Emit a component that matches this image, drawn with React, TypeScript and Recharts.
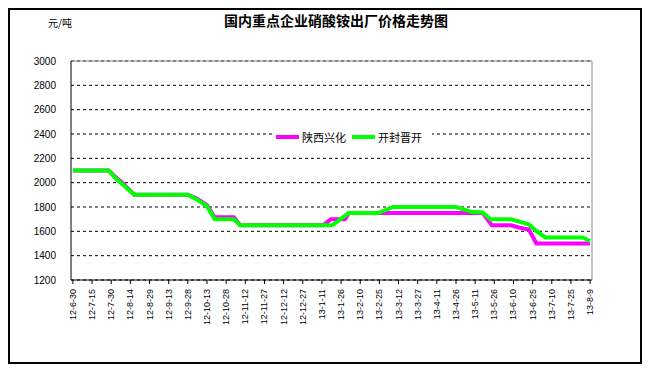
import { LineChart, Line, XAxis, YAxis, CartesianGrid, ReferenceLine } from "recharts";

const tickLabels = [
  "12-6-30", "12-7-15", "12-7-30", "12-8-14", "12-8-29", "12-9-13", "12-9-28",
  "12-10-13", "12-10-28", "12-11-12", "12-11-27", "12-12-12", "12-12-27",
  "13-1-11", "13-1-26", "13-2-10", "13-2-25", "13-3-12", "13-3-27", "13-4-11",
  "13-4-26", "13-5-11", "13-5-26", "13-6-10", "13-6-25", "13-7-10", "13-7-25", "13-8-9",
];
// days since 12-6-30, one label every 15 days
const tickDays = tickLabels.map((_, i) => i * 15);

// 陕西兴化
const xinghuaDays = [0, 28, 33, 39, 48, 90, 97, 105, 111, 126, 131, 196, 202, 213, 216, 321, 328, 343, 350, 357, 363, 405];
const xinghuaPrices = [2100, 2100, 2050, 1995, 1900, 1900, 1870, 1815, 1715, 1715, 1650, 1650, 1700, 1700, 1750, 1750, 1650, 1650, 1630, 1615, 1500, 1500];

// 开封晋开
const kaifengDays = [0, 28, 33, 39, 48, 90, 97, 105, 111, 126, 131, 203, 216, 239, 251, 300, 312, 321, 327, 343, 348, 357, 363, 370, 399, 405];
const kaifengPrices = [2100, 2100, 2040, 1985, 1900, 1900, 1862, 1807, 1700, 1700, 1650, 1650, 1750, 1750, 1800, 1800, 1760, 1755, 1700, 1700, 1684, 1657, 1602, 1550, 1550, 1520];

const yTicks = [1200, 1400, 1600, 1800, 2000, 2200, 2400, 2600, 2800, 3000];

const xinghua = xinghuaDays.map((d, i) => ({ day: d, price: xinghuaPrices[i] }));
const kaifeng = kaifengDays.map((d, i) => ({ day: d, price: kaifengPrices[i] }));

const MAGENTA = "#FF00FF";
const GREEN = "#00FF00";
const NUM_FONT = "'Liberation Sans', Arial, sans-serif";
const CJK_FONT = "'Noto Sans CJK SC', sans-serif";

const XTick = ({ x, y, payload }: any) => {
  const idx = tickDays.indexOf(payload.value);
  return (
    <text
      transform={`translate(${x},${y + 3}) rotate(-90)`}
      textAnchor="end"
      dominantBaseline="central"
      fontSize={9}
      fontFamily={NUM_FONT}
      fill="#000"
    >
      {tickLabels[idx] ?? ""}
    </text>
  );
};

const legendItems = [
  { name: "陕西兴化", color: MAGENTA },
  { name: "开封晋开", color: GREEN },
];

export default function App() {
  return (
    <div style={{ position: "relative", width: 650, height: 372, margin: -8, background: "#fff" }}>
      {/* outer frame */}
      <div
        style={{
          position: "absolute",
          left: 8,
          top: 8,
          width: 630,
          height: 352,
          border: "2px solid #000",
        }}
      />
      <div
        style={{
          position: "absolute",
          left: 48,
          top: 15,
          fontSize: 10,
          fontFamily: CJK_FONT,
          color: "#000",
        }}
      >
        元/吨
      </div>
      <div
        style={{
          position: "absolute",
          left: 0,
          width: 672,
          top: 10,
          textAlign: "center",
          fontSize: 14,
          fontWeight: "bold",
          fontFamily: CJK_FONT,
        }}
      >
        国内重点企业硝酸铵出厂价格走势图
      </div>

      <div style={{ position: "absolute", left: 0, top: 0 }}>
        <LineChart width={650} height={372} margin={{ top: 61, right: 58, bottom: 0, left: 0 }}>
          <CartesianGrid vertical={false} stroke="#000" strokeDasharray="3 3" />
          <XAxis
            dataKey="day"
            type="number"
            domain={[-1.5, 406.5]}
            ticks={tickDays}
            interval={0}
            height={92}
            tick={<XTick />}
            tickSize={4}
            axisLine={{ stroke: "#000" }}
            tickLine={{ stroke: "#000" }}
            allowDuplicatedCategory={false}
          />
          <YAxis
            type="number"
            domain={[1200, 3000]}
            ticks={yTicks}
            interval={0}
            width={71}
            tickLine={false}
            tickMargin={9}
            axisLine={{ stroke: "#000" }}
            tick={{ fontSize: 10, fill: "#000", fontFamily: NUM_FONT }}
          />
          <ReferenceLine y={3000} stroke="#888" strokeWidth={1} />
          <ReferenceLine x={406.5} stroke="#888" strokeWidth={1} />
          <Line
            data={xinghua}
            dataKey="price"
            name="陕西兴化"
            stroke={MAGENTA}
            strokeWidth={4}
            dot={false}
            type="linear"
            isAnimationActive={false}
          />
          <Line
            data={kaifeng}
            dataKey="price"
            name="开封晋开"
            stroke={GREEN}
            strokeWidth={4}
            dot={false}
            type="linear"
            isAnimationActive={false}
          />
        </LineChart>
      </div>

      {/* legend */}
      <div
        style={{
          position: "absolute",
          left: 272,
          top: 130,
          display: "flex",
          alignItems: "center",
          background: "#fff",
          padding: "0 4px",
          fontFamily: CJK_FONT,
          fontSize: 11,
          height: 14,
        }}
      >
        {legendItems.map((it) => (
          <div key={it.name} style={{ display: "flex", alignItems: "center", marginRight: 6 }}>
            <span style={{ display: "inline-block", width: 23, height: 4, background: it.color, marginRight: 3 }} />
            <span style={{ lineHeight: "14px" }}>{it.name}</span>
          </div>
        ))}
      </div>
    </div>
  );
}
